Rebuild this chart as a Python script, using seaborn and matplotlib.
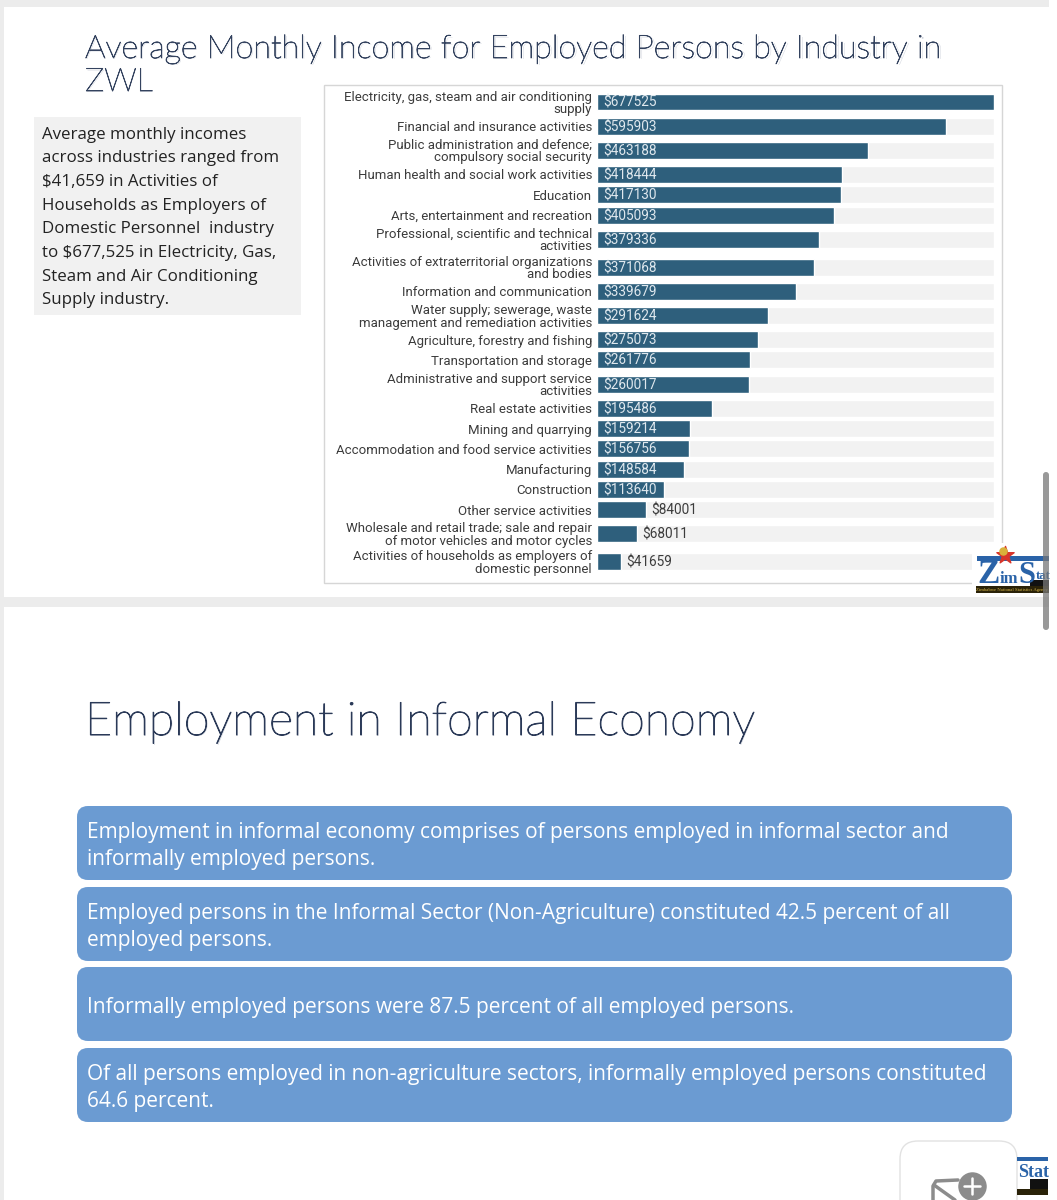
import matplotlib
matplotlib.use("Agg")
import matplotlib.pyplot as plt
import matplotlib.patheffects as pe
from matplotlib.patches import Rectangle, FancyBboxPatch
import numpy as np
import pandas as pd
import seaborn as sns

W, H = 1057, 1200

industries = [
    "Electricity, gas, steam and air conditioning\nsupply",
    "Financial and insurance activities",
    "Public administration and defence;\ncompulsory social security",
    "Human health and social work activities",
    "Education",
    "Arts, entertainment and recreation",
    "Professional, scientific and technical\nactivities",
    "Activities of extraterritorial organizations\nand bodies",
    "Information and communication",
    "Water supply; sewerage, waste\nmanagement and remediation activities",
    "Agriculture, forestry and fishing",
    "Transportation and storage",
    "Administrative and support service\nactivities",
    "Real estate activities",
    "Mining and quarrying",
    "Accommodation and food service activities",
    "Manufacturing",
    "Construction",
    "Other service activities",
    "Wholesale and retail trade; sale and repair\nof motor vehicles and motor cycles",
    "Activities of households as employers of\ndomestic personnel",
]
income = [677525, 595903, 463188, 418444, 417130, 405093, 379336, 371068, 339679,
          291624, 275073, 261776, 260017, 195486, 159214, 156756, 148584, 113640,
          84001, 68011, 41659]

title_top = ["Average Monthly Income for Employed Persons by Industry in", "ZWL"]
title_bottom = "Employment in Informal Economy"
side_text = ("Average monthly incomes\nacross industries ranged from\n$41,659 in Activities of\n"
             "Households as Employers of\nDomestic Personnel  industry\nto $677,525 in Electricity, Gas,\n"
             "Steam and Air Conditioning\nSupply industry.")
boxes = [
    "Employment in informal economy comprises of persons employed in informal sector and\ninformally employed persons.",
    "Employed persons in the Informal Sector (Non-Agriculture) constituted 42.5 percent of all\nemployed persons.",
    "Informally employed persons were 87.5 percent of all employed persons.",
    "Of all persons employed in non-agriculture sectors, informally employed persons constituted\n64.6 percent.",
]

sns.set_theme(style="white")
plt.rcParams["font.family"] = ["Open Sans", "DejaVu Sans"]

fig = plt.figure(figsize=(W / 100, H / 100), dpi=100, facecolor="white")

# page layer in pixel coordinates
bg = fig.add_axes([0, 0, 1, 1], zorder=0)
bg.set_xlim(0, W); bg.set_ylim(H, 0); bg.axis("off")
bg.add_patch(Rectangle((0, 0), 1049, H, fc="#ececec", ec="none"))
bg.add_patch(Rectangle((4, 7), 1045, 590, fc="white", ec="none"))
bg.add_patch(Rectangle((4, 607), 1045, 593, fc="white", ec="none"))
bg.add_patch(Rectangle((324, 85), 678, 498, fc="white", ec="#d6d6d6", lw=1))
bg.add_patch(Rectangle((34, 117), 267, 198, fc="#f1f1f1", ec="none"))

title_font = dict(family=["Lato", "DejaVu Sans"], fontweight="light", va="baseline")
for (x, y, s, size, colour, stroke) in [
    (85, 58, title_top[0], 23.3, "#34435f", 0.55),
    (85, 91, title_top[1], 23.3, "#34435f", 0.55),
    (85, 735, title_bottom, 33.5, "#2b3a58", 0.7),
]:
    # soft drop shadow first, then the title itself
    bg.text(x + 1, y + 1, s, fontsize=size, color="#9aa3b5", alpha=0.55, **title_font)
    bg.text(x, y, s, fontsize=size, color=colour,
            path_effects=[pe.Stroke(linewidth=stroke, foreground=colour), pe.Normal()], **title_font)

bg.text(42, 217.5, side_text, fontsize=12.2, color="#222222", va="center", linespacing=1.635)

box_tops = [806, 887, 967, 1048]
for top_y, txt in zip(box_tops, boxes):
    bg.add_patch(FancyBboxPatch((77, top_y), 935, 74, boxstyle="round,pad=0,rounding_size=11",
                                fc="#6b9bd2", ec="none"))
    bg.text(87, top_y + 40, txt, fontsize=15, color="white", va="center", linespacing=1.35)

# chart: rows get taller when their label wraps to two lines
row_px = [28.0 if "\n" in s else 20.3 for s in industries]
edges = np.concatenate([[0], np.cumsum(row_px)])
centers = (edges[:-1] + edges[1:]) / 2
df = pd.DataFrame({"industry": industries, "income": income, "pos": centers})
df["full"] = df["income"].max()

x0, x1 = 597, 994
y0 = 88.0
y1 = y0 + edges[-1]
ax = fig.add_axes([x0 / W, 1 - y1 / H, (x1 - x0) / W, (y1 - y0) / H], zorder=2)
ax.patch.set_alpha(0)
bar_w = 17 / 20.3
sns.barplot(data=df, x="full", y="pos", orient="y", native_scale=True, width=bar_w,
            color="#f2f2f2", saturation=1, ax=ax, errorbar=None)
sns.barplot(data=df, x="income", y="pos", orient="y", native_scale=True, width=bar_w,
            color="#2e5f7c", saturation=1, ax=ax, errorbar=None)
ax.set_xlim(0, df["income"].max())
ax.set_ylim(edges[-1], 0)
ax.set_xlabel(""); ax.set_ylabel("")
ax.set_xticks([])
ax.set_yticks(centers)
ax.set_yticklabels(industries, fontsize=9.5, color="#3c3c3c", family=["Roboto", "DejaVu Sans"],
                   linespacing=0.96, ha="right")
ax.tick_params(axis="y", length=0, pad=3.6)
sns.despine(ax=ax, left=True, bottom=True)
for v, c in zip(income, centers):
    inside = v > 100000
    ax.annotate(f"${v}", (0 if inside else v, c),
                xytext=(6 if inside else 5, -1), textcoords="offset pixels",
                va="center", ha="left", fontsize=9.8, family=["Roboto", "DejaVu Sans"],
                color="#dfe8ee" if inside else "#3c3c3c")

# overlays: logo, scrollbar and corner widget
top = fig.add_axes([0, 0, 1, 1], zorder=3)
top.set_xlim(0, W); top.set_ylim(H, 0); top.axis("off")
logo = dict(family=["Liberation Serif"], fontweight="bold", color="#2a63a8", va="baseline")
top.add_patch(Rectangle((972, 543), 77, 54, fc="white", ec="none"))
top.add_patch(Rectangle((977, 556), 72, 5, fc="#2a63a8", ec="none"))
top.add_patch(Rectangle((1030, 580), 19, 6, fc="#111111", ec="none"))
top.scatter([1005], [555], s=170, marker="*", color="#d8352a", zorder=4)
top.scatter([1003], [551], s=26, marker="o", color="#d9b23a", zorder=5)
top.text(977, 583, "Z", fontsize=24, **logo)
top.text(1000, 583, "im", fontsize=12, **logo)
top.text(1018, 583, "S", fontsize=22, **logo)
top.text(1036, 579, "tat", fontsize=9, **logo)
top.add_patch(Rectangle((976, 586), 73, 7, fc="#2a2208", ec="none"))
top.text(1012, 589.5, "Zimbabwe National Statistics Agency", fontsize=3.4, color="#d9b84a",
         ha="center", va="center", family=["Liberation Serif"])

top.add_patch(FancyBboxPatch((1043, 472), 6, 158, boxstyle="round,pad=0,rounding_size=3",
                             fc="#777777", ec="none", alpha=0.75, zorder=6))

top.add_patch(FancyBboxPatch((900, 1141), 117, 90, boxstyle="round,pad=0,rounding_size=18",
                             fc="white", ec="#e2e2e2", lw=1))
top.add_patch(Rectangle((1017, 1157), 31, 4, fc="#2a63a8", ec="none"))
top.text(1018, 1177, "Stat", fontsize=13, **logo)
top.add_patch(Rectangle((1030, 1179), 18, 10, fc="#111111", ec="none"))
top.add_patch(Rectangle((1017, 1189), 31, 6, fc="#2a2208", ec="none"))
top.plot([933, 933, 936, 958], [1200, 1186, 1181, 1180], color="#8c8c8c", lw=2.5)
top.plot([934, 955], [1185, 1200], color="#8c8c8c", lw=2.5)
top.scatter([972], [1186], s=380, color="#8c8c8c", zorder=5)
top.plot([964, 980], [1186, 1186], color="white", lw=1.8, zorder=6)
top.plot([972, 972], [1178, 1194], color="white", lw=1.8, zorder=6)

fig.savefig("out.png", dpi=100, facecolor=fig.get_facecolor())
